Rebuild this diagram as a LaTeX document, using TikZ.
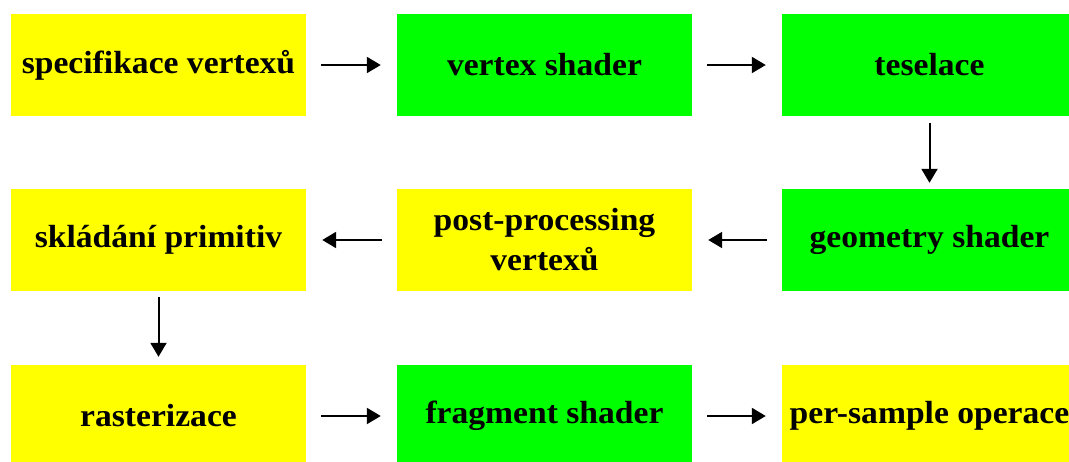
\documentclass[tikz,border=0pt]{standalone}
\usepackage{fontspec}
\setmainfont{Liberation Serif}[FakeStretch=1.05]
\usetikzlibrary{arrows.meta}
\definecolor{boxyellow}{HTML}{FFFF00}
\definecolor{boxgreen}{HTML}{00FF00}
\begin{document}
\begin{tikzpicture}[x=1pt,y=1pt,
  stage/.style={minimum width=295pt,minimum height=102pt,inner sep=0pt,align=center,
    font=\fontsize{32}{40}\selectfont\bfseries},
  ystage/.style={stage,fill=boxyellow},
  gstage/.style={stage,fill=boxgreen},
  flow/.style={line width=2pt,-{Triangle[length=14pt,width=16pt]}}]
\useasboundingbox (0,0) rectangle (1069,-461);
\node[ystage] (spec) at (158.5,-65) {specifikace vertexů};
\node[gstage] (vs) at (544.5,-65) {vertex shader};
\node[gstage] (tess) at (929.5,-65) {teselace};
\node[gstage] (gs) at (929.5,-240) {geometry shader};
\node[ystage] (post) at (544.5,-240) {post-processing\\vertexů};
\node[ystage] (prim) at (158.5,-240) {skládání primitiv};
\node[ystage] (rast) at (158.5,-416) {rasterizace};
\node[gstage] (fs) at (544.5,-416) {fragment shader};
\node[ystage] (ps) at (929.5,-416) {per-sample operace};
\draw[flow,shorten <=15pt,shorten >=16pt] (spec) -- (vs);
\draw[flow,shorten <=15pt,shorten >=16pt] (vs) -- (tess);
\draw[flow,shorten <=7pt,shorten >=6pt] (tess) -- (gs);
\draw[flow,shorten <=15pt,shorten >=16pt] (gs) -- (post);
\draw[flow,shorten <=15pt,shorten >=16pt] (post) -- (prim);
\draw[flow,shorten <=6pt,shorten >=8pt] (prim) -- (rast);
\draw[flow,shorten <=15pt,shorten >=16pt] (rast) -- (fs);
\draw[flow,shorten <=15pt,shorten >=16pt] (fs) -- (ps);
\end{tikzpicture}
\end{document}
